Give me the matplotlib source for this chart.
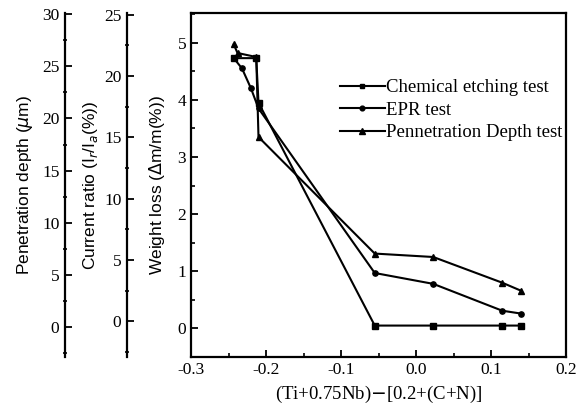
import numpy as np
import matplotlib as mpl
mpl.use('Agg')
from matplotlib import pyplot as plt
from matplotlib.ticker import MultipleLocator


# x = (Ti+0.75Nb)-[0.2+(C+N)], y = weight loss scale
chem_x = [-0.243, -0.213, -0.210, -0.055, 0.023, 0.115, 0.140]
chem_y = [4.73, 4.73, 3.95, 0.05, 0.05, 0.05, 0.05]

epr_x = [-0.243, -0.232, -0.220, -0.210, -0.055, 0.023, 0.115, 0.140]
epr_y = [4.73, 4.55, 4.20, 3.85, 0.97, 0.78, 0.31, 0.26]

pen_x = [-0.243, -0.238, -0.213, -0.210, -0.055, 0.023, 0.115, 0.140]
pen_y = [4.97, 4.82, 4.75, 3.35, 1.31, 1.25, 0.80, 0.66]

labels = ['Chemical etching test', 'EPR test', 'Pennetration Depth test']
x_ticks = [-0.3, -0.2, -0.1, 0.0, 0.1, 0.2]
x_ticklabels = ['-0.3', '-0.2', '-0.1', '0.0', '0.1', '0.2']

serif = 'Liberation Serif'
sans = 'Liberation Sans'

fig = plt.figure(figsize=(5.81, 4.12), dpi=100)
rect = [191/581, 55/412, 375/581, 344/412]


def side_axis(offset_px, lim, step, minor, label, label_px):
    a = fig.add_axes(rect)
    a.patch.set_visible(False)
    for s in ['top', 'right', 'bottom']:
        a.spines[s].set_visible(False)
    a.spines['left'].set_position(('outward', offset_px * 72 / 100))
    a.spines['left'].set_linewidth(1.6)
    a.set_xticks([])
    a.set_ylim(*lim)
    a.yaxis.set_major_locator(MultipleLocator(step))
    a.yaxis.set_minor_locator(MultipleLocator(minor))
    a.tick_params(axis='y', direction='in', length=5, width=1.3, labelsize=12.5, pad=4)
    a.tick_params(axis='y', which='minor', direction='inout', length=3, width=1.2)
    for t in a.get_yticklabels():
        t.set_fontfamily(serif)
    a.set_ylabel(label, fontsize=12.5, family=sans)
    a.yaxis.set_label_coords(-(label_px) / 375, 0.5)
    return a


pen_ax = side_axis(126, (-2.85, 30.1), 5, 2.5, 'Penetration depth ($\\mu$m)', 156)
cur_ax = side_axis(64, (-2.9, 25.15), 5, 2.5, 'Current ratio (I$_r$/I$_a$(%))', 91)

ax = fig.add_axes(rect)
ax.plot(chem_x, chem_y, color='black', lw=1.5, marker='s', ms=3.8, label=labels[0])
ax.plot(epr_x, epr_y, color='black', lw=1.5, marker='o', ms=3.8, label=labels[1])
ax.plot(pen_x, pen_y, color='black', lw=1.5, marker='^', ms=4.2, label=labels[2])

ax.set_xlim(-0.3, 0.2)
ax.set_ylim(-0.5, 5.52)
ax.set_xticks(x_ticks, x_ticklabels)
ax.xaxis.set_minor_locator(MultipleLocator(0.05))
ax.yaxis.set_major_locator(MultipleLocator(1))
ax.yaxis.set_minor_locator(MultipleLocator(0.5))
ax.tick_params(direction='in', length=5, width=1.3, labelsize=12.5)
ax.tick_params(which='minor', direction='in', length=3, width=1.2)
for s in ax.spines.values():
    s.set_linewidth(1.6)
for t in ax.get_xticklabels() + ax.get_yticklabels():
    t.set_fontfamily(serif)

ax.set_ylabel('Weight loss ($\\Delta$m/m(%))', fontsize=12.5, family=sans)
ax.yaxis.set_label_coords(-24 / 375, 0.5)
ax.set_xlabel('(Ti+0.75Nb)$-$[0.2+(C+N)]', fontsize=13.5, family=serif, labelpad=4)

leg = ax.legend(loc='upper right', bbox_to_anchor=(1.02, 0.84), frameon=False,
                prop={'family': serif, 'size': 13.5}, handlelength=2.4,
                handletextpad=0.05, labelspacing=0.28, borderaxespad=0.2,
                markerscale=0.9)

fig.savefig('out.png', dpi=100)
